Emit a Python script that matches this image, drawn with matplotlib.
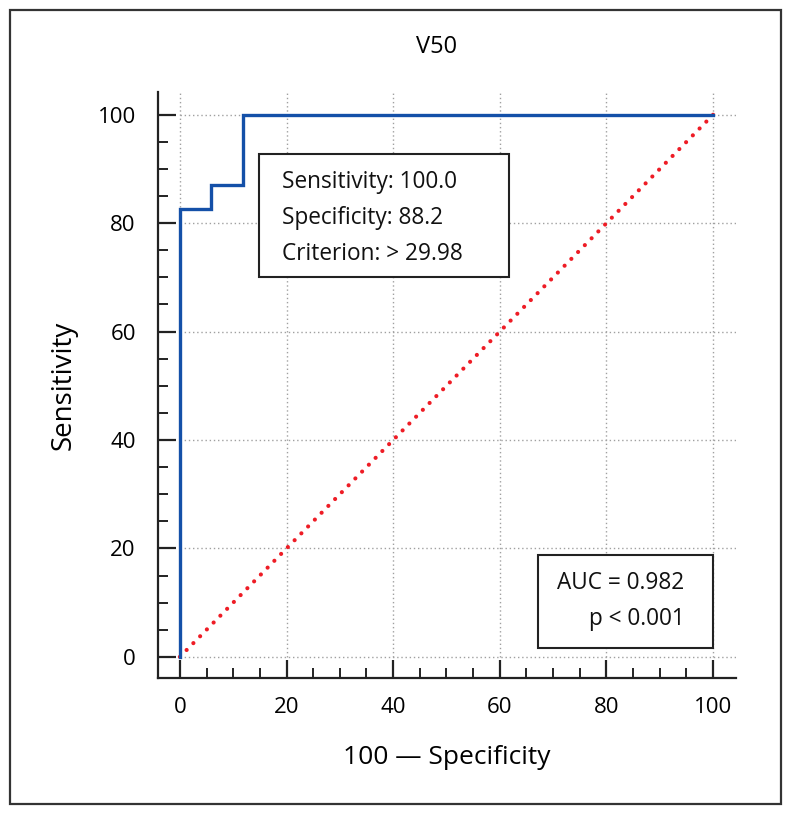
import matplotlib
matplotlib.use("Agg")
import matplotlib.pyplot as plt
from matplotlib.patches import Rectangle
from matplotlib.ticker import MultipleLocator

plt.rcParams["font.family"] = ["Open Sans", "DejaVu Sans"]

# ROC curve (100 - specificity, sensitivity)
fpr = [0, 0, 5.9, 5.9, 11.8, 11.8, 100]
tpr = [0, 82.6, 82.6, 87.0, 87.0, 100, 100]
diag_x = [0, 100]
diag_y = [0, 100]
ticks = [0, 20, 40, 60, 80, 100]

info_lines = ["Sensitivity: 100.0", "Specificity: 88.2", "Criterion: > 29.98"]
auc_lines = ["AUC = 0.982", "p < 0.001"]

W, H = 792, 816
fig = plt.figure(figsize=(W / 100, H / 100), dpi=100)
ax = fig.add_axes([158 / W, 1 - 678 / H, (736 - 158) / W, (678 - 92) / H])

xlim = (-4.1, 104.3)
ylim = (-3.9, 104.2)
ax.set_xlim(*xlim)
ax.set_ylim(*ylim)

# dotted grid only over the data range
grid_kw = dict(color="#a0a0a0", linestyle=(0, (1, 2)), linewidth=1.0, zorder=1)
for t in ticks:
    ax.plot([0, xlim[1]], [t, t], **grid_kw)
    ax.plot([t, t], [0, ylim[1]], **grid_kw)

ax.plot(diag_x, diag_y, color="#ee1c25", linestyle=(0, (0.01, 2.3)),
        linewidth=3.0, dash_capstyle="round", zorder=3)
ax.plot(fpr, tpr, color="#1450a8", linewidth=2.4, zorder=4,
        solid_joinstyle="miter")

for s in ["top", "right"]:
    ax.spines[s].set_visible(False)
for s in ["left", "bottom"]:
    ax.spines[s].set_linewidth(1.6)
    ax.spines[s].set_color("#222222")

ax.set_xticks(ticks)
ax.set_yticks(ticks)
ax.xaxis.set_minor_locator(MultipleLocator(5))
ax.yaxis.set_minor_locator(MultipleLocator(5))
ax.tick_params(which="major", direction="in", length=13, width=1.6,
               color="#222222", labelsize=16, pad=14)
ax.tick_params(which="minor", direction="in", length=7, width=1.4,
               color="#222222")
ax.tick_params(axis="y", pad=16)

# info box
ax.add_patch(Rectangle((14.8, 70.1), 46.9, 22.7, fill=True, facecolor="white",
                       edgecolor="#222222", linewidth=1.5, zorder=5))
for i, line in enumerate(info_lines):
    ax.text(19.1, 87.6 - i * 6.65, line, fontsize=16.3, va="center", ha="left",
            color="#111111", zorder=6)

# AUC box
ax.add_patch(Rectangle((67.2, 1.7), 32.8, 17.1, fill=True, facecolor="white",
                       edgecolor="#222222", linewidth=1.5, zorder=5))
for i, line in enumerate(auc_lines):
    ax.text(94.6, 13.7 - i * 6.8, line, fontsize=16.3, va="center", ha="right",
            color="#111111", zorder=6)

fig.text(437 / W, 1 - 47 / H, "V50", fontsize=17, ha="center", va="center")
fig.text(64 / W, 1 - 385 / H, "Sensitivity", fontsize=20, ha="center",
         va="center", rotation=90)
fig.text(447 / W, 1 - 757 / H, "100 \u2014 Specificity", fontsize=19,
         ha="center", va="center")

# outer frame
fig.add_artist(Rectangle((10 / W, 1 - 804 / H), 771 / W, 794 / H,
                         transform=fig.transFigure, fill=False,
                         edgecolor="#333333", linewidth=1.6))

fig.savefig("out.png", dpi=100)
